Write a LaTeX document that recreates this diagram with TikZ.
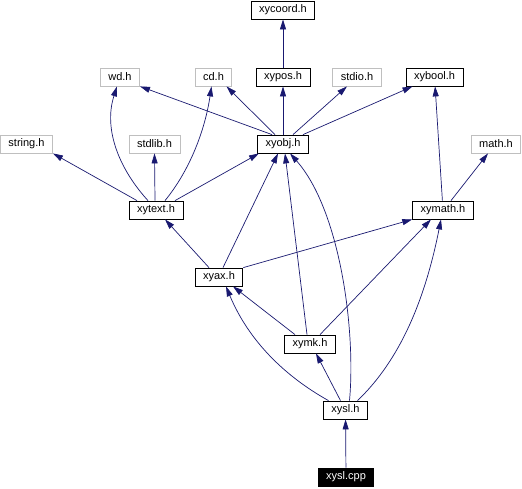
\documentclass[tikz,border=0pt]{standalone}
\usepackage{fontspec}
\setmainfont{Liberation Sans}
\usetikzlibrary{arrows.meta}
\definecolor{edgeblue}{HTML}{191970}
\definecolor{boxgray}{HTML}{BFBFBF}
\begin{document}
\begin{tikzpicture}[x=1pt, y=-1pt,
  file/.style={draw=black, line width=0.8pt, fill=white, inner xsep=8pt, inner ysep=0pt,
    minimum height=18pt, font=\fontsize{11}{12}\selectfont},
  sysfile/.style={file, draw=boxgray},
  mainfile/.style={file, fill=black, text=white},
  dep/.style={draw=edgeblue, line width=0.7pt, -{Triangle[length=10pt,width=6pt]}}]
  \useasboundingbox (0,0) rectangle (522,488);
  % Các tệp
  \node[file] (xycoord) at (283,10) {xycoord.h};
  \node[sysfile] (wd) at (120,77) {wd.h};
  \node[sysfile] (cd) at (213.5,77) {cd.h};
  \node[file] (xypos) at (283,77) {xypos.h};
  \node[sysfile] (stdio) at (357,77) {stdio.h};
  \node[file] (xybool) at (434.5,77) {xybool.h};
  \node[sysfile] (string) at (26.5,144) {string.h};
  \node[sysfile] (stdlib) at (154.5,144) {stdlib.h};
  \node[file] (xyobj) at (283,144) {xyobj.h};
  \node[sysfile] (math) at (496,144) {math.h};
  \node[file] (xytext) at (156,210) {xytext.h};
  \node[file] (xymath) at (443,210) {xymath.h};
  \node[file] (xyax) at (219,277) {xyax.h};
  \node[file] (xymk) at (310,344) {xymk.h};
  \node[file] (xysl) at (345.5,410) {xysl.h};
  \node[mainfile] (xyslcpp) at (346,477) {xysl.cpp};
  % Quan hệ include
  \draw[dep] (xypos) -- (xycoord);
  \draw[dep] ([xshift=-11pt]xyobj.north) -- (wd.south east);
  \draw[dep] ([xshift=-8pt]xyobj.north) -- ([xshift=13pt]cd.south);
  \draw[dep] (xyobj) -- (xypos);
  \draw[dep] ([xshift=10pt]xyobj.north) -- ([xshift=-10pt]stdio.south);
  \draw[dep] ([xshift=20pt]xyobj.north) -- ([xshift=-22pt]xybool.south);
  \draw[dep] ([xshift=-19pt]xytext.north) -- (string.south east);
  \draw[dep] ([xshift=-8pt]xytext.north) .. controls (120,170) and (103,130) .. ([xshift=-3pt]wd.south);
  \draw[dep] ([xshift=-1pt]xytext.north) -- (stdlib.south);
  \draw[dep] ([xshift=9pt]xytext.north) .. controls (190,170) and (205,130) .. ([xshift=-2pt]cd.south);
  \draw[dep] ([xshift=19pt]xytext.north) -- ([xshift=-24pt]xyobj.south);
  \draw[dep] (xymath) -- (xybool);
  \draw[dep] ([xshift=8pt]xymath.north) -- ([xshift=-8pt]math.south);
  \draw[dep] ([xshift=-10pt]xyax.north) -- ([xshift=9pt]xytext.south);
  \draw[dep] ([xshift=4pt]xyax.north) -- ([xshift=-5pt]xyobj.south);
  \draw[dep] (xyax.north east) -- (xymath.south west);
  \draw[dep] ([xshift=-15pt]xymk.north) -- ([xshift=14pt]xyax.south);
  \draw[dep] ([xshift=-3pt]xymk.north) -- ([xshift=2pt]xyobj.south);
  \draw[dep] ([xshift=10pt]xymk.north) -- ([xshift=-12pt]xymath.south);
  \draw[dep] ([xshift=-5pt]xysl.north) -- ([xshift=6pt]xymk.south);
  \draw[dep] ([xshift=-17pt]xysl.north) .. controls (265,365) and (240,320) .. ([xshift=7pt]xyax.south);
  \draw[dep] ([xshift=4pt]xysl.north) .. controls (356,330) and (340,210) .. ([xshift=7pt]xyobj.south);
  \draw[dep] ([xshift=12pt]xysl.north) .. controls (400,360) and (425,300) .. ([xshift=-2pt]xymath.south);
  \draw[dep] (xyslcpp) -- (xysl);
\end{tikzpicture}
\end{document}
